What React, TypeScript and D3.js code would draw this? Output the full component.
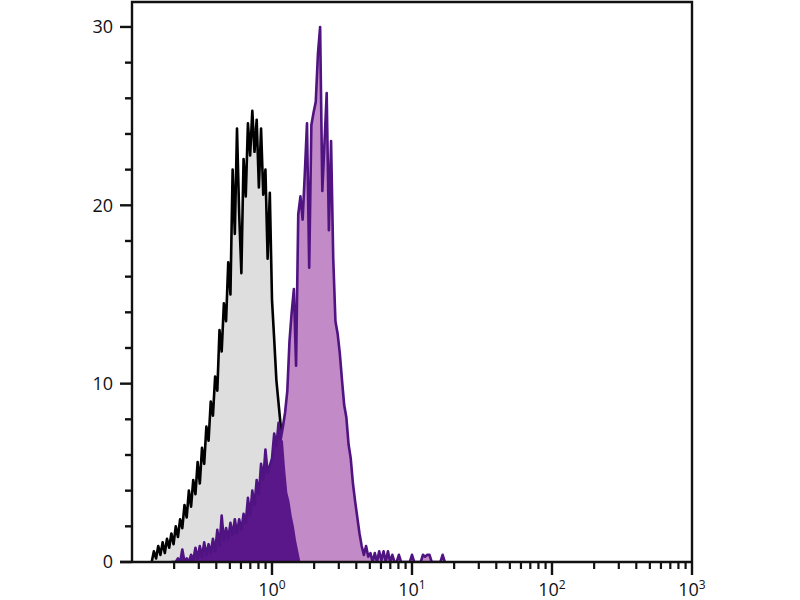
import * as d3 from 'd3';

// Histogram channels: 256 channels spread over 4 log decades (10^-1 .. 10^3)
const CHANNEL_COUNT = 256;
const LOG_RANGE: [number, number] = [-1, 3];

// Control (grey) histogram, counts per channel starting at GRAY_FIRST_CHANNEL
const GRAY_FIRST_CHANNEL = 9;
const GRAY_COUNTS = [
  0, 0.6, 0.2, 0.9, 0.4, 1.1, 0.5, 1.3, 0.8, 1.6,
  1.0, 2.0, 1.4, 2.4, 1.9, 3.2, 2.5, 4.0, 3.1, 4.6,
  3.8, 5.6, 4.4, 6.4, 5.5, 7.6, 6.8, 9.0, 8.2, 10.4,
  9.6, 13.0, 11.8, 14.5, 13.5, 16.8, 15.0, 22.0, 18.4, 24.3,
  19.5, 16.2, 22.6, 20.5, 24.6, 22.8, 25.3, 23.0, 24.8, 21.0,
  24.3, 20.6, 22.0, 17.0, 20.7, 14.7, 12.5, 10.2, 8.9, 7.6,
  6.8, 5.2, 3.9, 3.4, 2.6, 2.0, 1.2, 0.6, 0,
];

// Stained (purple) histogram
const PURPLE_FIRST_CHANNEL = 18;
const PURPLE_COUNTS = [
  0, 0, 0, 0.2, 0, 0.7, 0, 0.2, 0, 0.4,
  0.1, 0.8, 0.2, 0.9, 0.3, 1.1, 0.4, 1.0, 0.5, 1.3,
  0.6, 1.8, 0.9, 2.6, 1.2, 1.9, 1.3, 2.2, 1.5, 2.4,
  1.6, 2.4, 1.8, 2.7, 2.2, 3.6, 2.6, 4.0, 3.2, 4.6,
  3.8, 5.5, 4.6, 6.3, 5.0, 5.4, 5.8, 7.2, 6.5, 7.8,
  6.9, 7.6, 8.4, 9.6, 12.4, 14.0, 15.3, 11.0, 19.5, 20.5,
  19.2, 21.8, 24.6, 16.5, 24.5, 25.2, 25.8, 28.5, 30.0, 20.8,
  23.5, 26.3, 18.6, 23.6, 17.0, 13.5, 12.8, 11.7, 10.2, 8.8,
  8.1, 6.6, 5.8, 4.4, 3.4, 2.5, 1.6, 0.9, 0.4, 0.9,
  0.3, 0.5, 0, 0.5, 0, 0.6, 0.1, 0.6, 0, 0.6,
  0, 0.4, 0, 0, 0.4, 0, 0, 0, 0, 0,
  0.4, 0, 0, 0, 0, 0.4, 0.3, 0.4, 0.4, 0,
  0, 0, 0, 0, 0.4, 0,
];

const Y_MAJOR = [0, 10, 20, 30];
const Y_MINOR = [2, 4, 6, 8, 12, 14, 16, 18, 22, 24, 26, 28];
const X_DECADES = [0, 1, 2, 3];
const X_MINOR_MULTIPLIERS = [2, 3, 4, 5, 6, 7, 8, 9];

interface Bin {
  channel: number;
  count: number;
}

const FONT = '"Open Sans", "Noto Sans", sans-serif';

export default function App() {
  const width = 800;
  const height = 600;
  const plot = { left: 132, right: 692, top: 2, bottom: 562 };

  const x = d3.scaleLog().domain([0.1, 1000]).range([plot.left, plot.right]);
  const y = d3.scaleLinear().domain([0, 31.4]).range([plot.bottom, plot.top]);
  const channelToLog = d3.scaleLinear().domain([0, CHANNEL_COUNT]).range(LOG_RANGE);

  const toBins = (first: number, counts: number[]): Bin[] =>
    counts.map((count, i) => ({ channel: first + i, count }));

  const grayBins = toBins(GRAY_FIRST_CHANNEL, GRAY_COUNTS);
  const purpleBins = toBins(PURPLE_FIRST_CHANNEL, PURPLE_COUNTS);

  // overlap of both histograms (drawn darker)
  const overlapBins: Bin[] = purpleBins
    .filter((b) => b.channel >= GRAY_FIRST_CHANNEL && b.channel < GRAY_FIRST_CHANNEL + GRAY_COUNTS.length)
    .map((b) => ({
      channel: b.channel,
      count: Math.min(b.count, GRAY_COUNTS[b.channel - GRAY_FIRST_CHANNEL]),
    }));

  const bx = (b: Bin) => x(Math.pow(10, channelToLog(b.channel)));
  const line = d3.line<Bin>().x(bx).y((b) => y(b.count));
  const area = d3.area<Bin>().x(bx).y0(y(0)).y1((b) => y(b.count));

  const xMinor: number[] = [];
  [-1, 0, 1, 2].forEach((d) =>
    X_MINOR_MULTIPLIERS.forEach((m) => xMinor.push(m * Math.pow(10, d)))
  );

  const axisColor = '#111';

  return (
    <svg
      width={width}
      height={height}
      style={{ position: 'absolute', left: 0, top: 0, background: '#fff' }}
    >
      <defs>
        <clipPath id="plot-clip">
          <rect x={plot.left} y={plot.top} width={plot.right - plot.left} height={plot.bottom - plot.top} />
        </clipPath>
      </defs>

      <g clipPath="url(#plot-clip)">
        {/* control histogram */}
        <path d={area(grayBins) ?? ''} fill="#dedede" />
        <path d={line(grayBins) ?? ''} fill="none" stroke="#000" strokeWidth={2.6} strokeLinejoin="round" />

        {/* stained histogram */}
        <path d={area(purpleBins) ?? ''} fill="#c28ac6" />
        <path d={area(overlapBins) ?? ''} fill="#5a178a" />
        <path d={line(purpleBins) ?? ''} fill="none" stroke="#4f1382" strokeWidth={2.6} strokeLinejoin="round" />
      </g>

      {/* frame */}
      <path
        d={`M${plot.left},${plot.bottom}V${plot.top}H${plot.right}V${plot.bottom}`}
        fill="none"
        stroke={axisColor}
        strokeWidth={2.4}
      />
      <line x1={plot.left - 12} x2={plot.right} y1={plot.bottom} y2={plot.bottom} stroke={axisColor} strokeWidth={2.6} />

      {/* y axis */}
      {Y_MAJOR.map((v) => (
        <g key={`ym${v}`}>
          <line x1={plot.left - 12} x2={plot.left} y1={y(v)} y2={y(v)} stroke={axisColor} strokeWidth={2.4} />
          <text
            x={plot.left - 19}
            y={y(v)}
            dy="0.36em"
            textAnchor="end"
            fontFamily={FONT}
            fontSize={18}
            fill="#111"
          >
            {v}
          </text>
        </g>
      ))}
      {Y_MINOR.map((v) => (
        <line key={`yn${v}`} x1={plot.left - 7} x2={plot.left} y1={y(v)} y2={y(v)} stroke={axisColor} strokeWidth={2.4} />
      ))}

      {/* x axis */}
      {X_DECADES.map((e) => (
        <g key={`xm${e}`}>
          <line
            x1={x(Math.pow(10, e))}
            x2={x(Math.pow(10, e))}
            y1={plot.bottom}
            y2={plot.bottom + 13}
            stroke={axisColor}
            strokeWidth={2.4}
          />
          <text
            x={x(Math.pow(10, e))}
            y={596}
            textAnchor="middle"
            fontFamily={FONT}
            fontSize={18}
            fill="#111"
          >
            10
            <tspan fontSize={12} dy={-7}>
              {e}
            </tspan>
          </text>
        </g>
      ))}
      {xMinor.map((v) => (
        <line
          key={`xn${v}`}
          x1={x(v)}
          x2={x(v)}
          y1={plot.bottom}
          y2={plot.bottom + 7}
          stroke={axisColor}
          strokeWidth={2.2}
        />
      ))}
    </svg>
  );
}
